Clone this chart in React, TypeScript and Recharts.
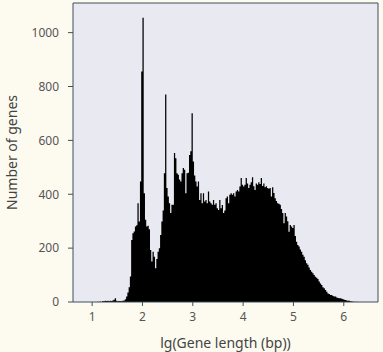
import {
  ComposedChart,
  Area,
  XAxis,
  YAxis,
  CartesianGrid,
  ReferenceArea,
  Label,
} from "recharts";

// histogram of lg(gene length), bins of 0.025 starting at 1.0
const binStart = 1.0;
const binWidth = 0.025;

// one row = 8 bins = 0.2 units
const geneCounts = [
  0, 0, 0, 0, 1, 0, 2, 0, // 1.0
  4, 3, 5, 4, 5, 3, 5, 4, // 1.2
  6, 8, 14, 5, 3, 4, 4, 3, // 1.4
  5, 6, 10, 20, 35, 55, 95, 230, // 1.6
  255, 262, 280, 285, 367, 299, 447, 856, // 1.8
  1055, 404, 305, 280, 283, 270, 193, 150, // 2.0
  187, 168, 125, 160, 187, 200, 249, 299, // 2.2
  340, 478, 770, 423, 392, 367, 330, 361, // 2.4
  361, 553, 534, 478, 472, 455, 447, 478, // 2.6
  497, 491, 404, 478, 480, 546, 560, 701, // 2.8
  522, 470, 447, 429, 447, 379, 404, 367, // 3.0
  404, 373, 379, 367, 410, 373, 367, 361, // 3.2
  379, 361, 367, 348, 342, 379, 348, 360, // 3.4
  330, 340, 385, 392, 367, 398, 404, 398, // 3.6
  404, 392, 410, 416, 410, 429, 460, 435, // 3.8
  429, 435, 460, 440, 423, 435, 445, 463, // 4.0
  430, 416, 440, 435, 445, 438, 460, 431, // 4.2
  440, 426, 430, 423, 420, 423, 392, 426, // 4.4
  405, 385, 375, 367, 365, 361, 345, 330, // 4.6
  292, 330, 317, 300, 261, 286, 280, 275, // 4.8
  286, 245, 224, 212, 206, 195, 187, 175, // 5.0
  168, 155, 144, 138, 128, 119, 112, 107, // 5.2
  100, 94, 90, 85, 76, 69, 63, 55, // 5.4
  51, 45, 38, 32, 30, 26, 26, 22, // 5.6
  20, 20, 17, 15, 14, 14, 12, 10, // 5.8
  8, 7, 6, 5, 5, 3, 2, 1, // 6.0
  1, 0, 1, 0, // 6.2
];

const xTicks = [1, 2, 3, 4, 5, 6];
const yTicks = [0, 200, 400, 600, 800, 1000];
const xDomain = [0.62, 6.68];
const yDomain = [0, 1110];

const data = [
  ...geneCounts.map((count, i) => ({ x: binStart + i * binWidth, count })),
  { x: binStart + geneCounts.length * binWidth, count: 0 },
];

const axisColor = "#3f4f5a";
const textColor = "#555555";
const font = "'Noto Sans', sans-serif";

export default function App() {
  return (
    <div
      style={{
        position: "absolute",
        left: 0,
        top: 0,
        width: 383,
        height: 352,
        background: "#fdfbf0",
        fontFamily: font,
      }}
    >
      <ComposedChart
        width={383}
        height={352}
        data={data}
        margin={{ top: 3, right: 5, left: 0, bottom: 0 }}
      >
        <CartesianGrid
          fill="#e9e9f2"
          horizontal={false}
          vertical={false}
        />
        <XAxis
          dataKey="x"
          type="number"
          domain={xDomain}
          ticks={xTicks}
          allowDataOverflow
          height={50}
          axisLine={false}
          tickLine={{ stroke: axisColor }}
          tickSize={4}
          tickMargin={6}
          tick={{ fill: textColor, fontSize: 12, fontFamily: font }}
        >
          <Label
            value="lg(Gene length (bp))"
            position="insideBottom"
            offset={4}
            style={{ fill: "#444", fontSize: 14, fontFamily: font }}
          />
        </XAxis>
        <YAxis
          type="number"
          domain={yDomain}
          ticks={yTicks}
          allowDataOverflow
          width={73}
          axisLine={false}
          tickLine={{ stroke: axisColor }}
          tickSize={5}
          tickMargin={9}
          tick={{ fill: textColor, fontSize: 12, fontFamily: font }}
        >
          <Label
            value="Number of genes"
            angle={-90}
            position="insideLeft"
            offset={12}
            style={{ fill: "#444", fontSize: 14, fontFamily: font, textAnchor: "middle" }}
          />
        </YAxis>
        <Area
          type="stepAfter"
          dataKey="count"
          fill="#000000"
          fillOpacity={1}
          stroke="none"
          isAnimationActive={false}
        />
        <ReferenceArea
          x1={xDomain[0]}
          x2={xDomain[1]}
          y1={yDomain[0]}
          y2={yDomain[1]}
          fill="none"
          stroke={axisColor}
          strokeWidth={1}
          ifOverflow="visible"
        />
      </ComposedChart>
    </div>
  );
}
